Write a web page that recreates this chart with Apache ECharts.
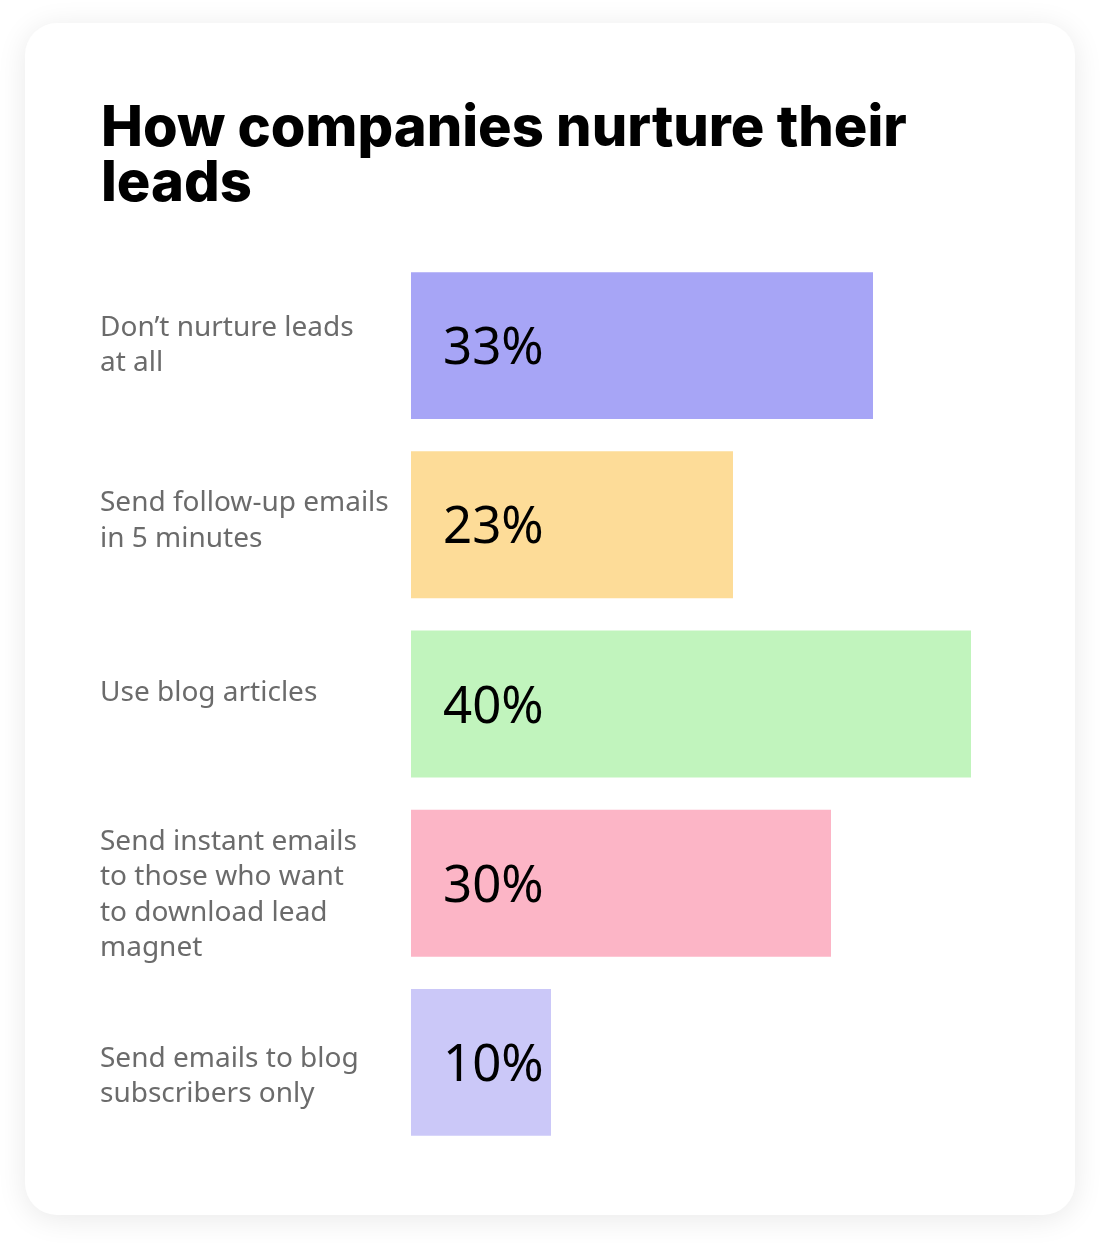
<!DOCTYPE html>
<html>
<head>
<meta charset="utf-8">
<script src="https://cdn.jsdelivr.net/npm/echarts@6/dist/echarts.min.js"></script>
<style>
html,body{margin:0;padding:0;background:#ffffff;}
#chart{width:1100px;height:1243px;}
</style>
</head>
<body>
<div id="chart"></div>
<script>
const titleText = 'How companies nurture their\nleads';
const categories = [
  'Don\u2019t nurture leads\nat all',
  'Send follow-up emails\nin 5 minutes',
  'Use blog articles',
  'Send instant emails\nto those who want\nto download lead\nmagnet',
  'Send emails to blog\nsubscribers only'
];
const values = [33, 23, 40, 30, 10];
const barColors = ['#a7a5f6', '#fddc98', '#c1f4bd', '#fcb5c6', '#cbc8f8'];
// vertical nudge of each category label (px, positive = down)
const labelShift = [0, -4, -11, 12, 14];

const spacerRich = {};
labelShift.forEach((d, i) => {
  spacerRich['sp' + i] = {lineHeight: Math.max(1, 2 * Math.abs(d)), height: Math.max(1, 2 * Math.abs(d)), fontSize: 1};
});

const chart = echarts.init(document.getElementById('chart'), null, {renderer: 'canvas'});
chart.setOption({
  backgroundColor: '#ffffff',
  animation: false,
  graphic: [{
    type: 'rect',
    z: -10,
    shape: {x: 25, y: 23, width: 1050, height: 1192, r: 32},
    style: {fill: '#ffffff', shadowBlur: 30, shadowColor: 'rgba(0,0,0,0.09)', shadowOffsetY: 4}
  }],
  title: {
    text: titleText,
    left: 96,
    top: 97,
    textStyle: {
      fontFamily: 'Inter',
      fontWeight: 800,
      fontSize: 56,
      lineHeight: 55,
      color: '#000000'
    }
  },
  grid: {left: 411, right: 129, top: 256, bottom: 91, containLabel: false, outerBoundsMode: 'none'},
  xAxis: {
    type: 'value', min: 0, max: 40, show: false,
    splitLine: {show: false}
  },
  yAxis: {
    type: 'category',
    inverse: true,
    data: categories,
    axisLine: {show: false},
    axisTick: {show: false},
    axisLabel: {
      margin: 311,
      align: 'left',
      fontFamily: 'Noto Sans',
      fontSize: 28,
      lineHeight: 35.5,
      color: '#6b6b6b',
      formatter: function (value, index) {
        const d = labelShift[index] || 0;
        if (d > 0) return '{sp' + index + '| }\n' + value;
        if (d < 0) return value + '\n{sp' + index + '| }';
        return value;
      },
      rich: spacerRich
    }
  },
  series: [{
    type: 'bar',
    data: values.map((v, i) => ({value: v, itemStyle: {color: barColors[i]}})),
    barCategoryGap: '18%',
    label: {
      show: true,
      position: 'insideLeft',
      distance: 32,
      offset: [0, 4],
      formatter: '{c}%',
      fontFamily: 'Noto Sans',
      fontSize: 51,
      color: '#000000'
    }
  }]
});
</script>
</body>
</html>
